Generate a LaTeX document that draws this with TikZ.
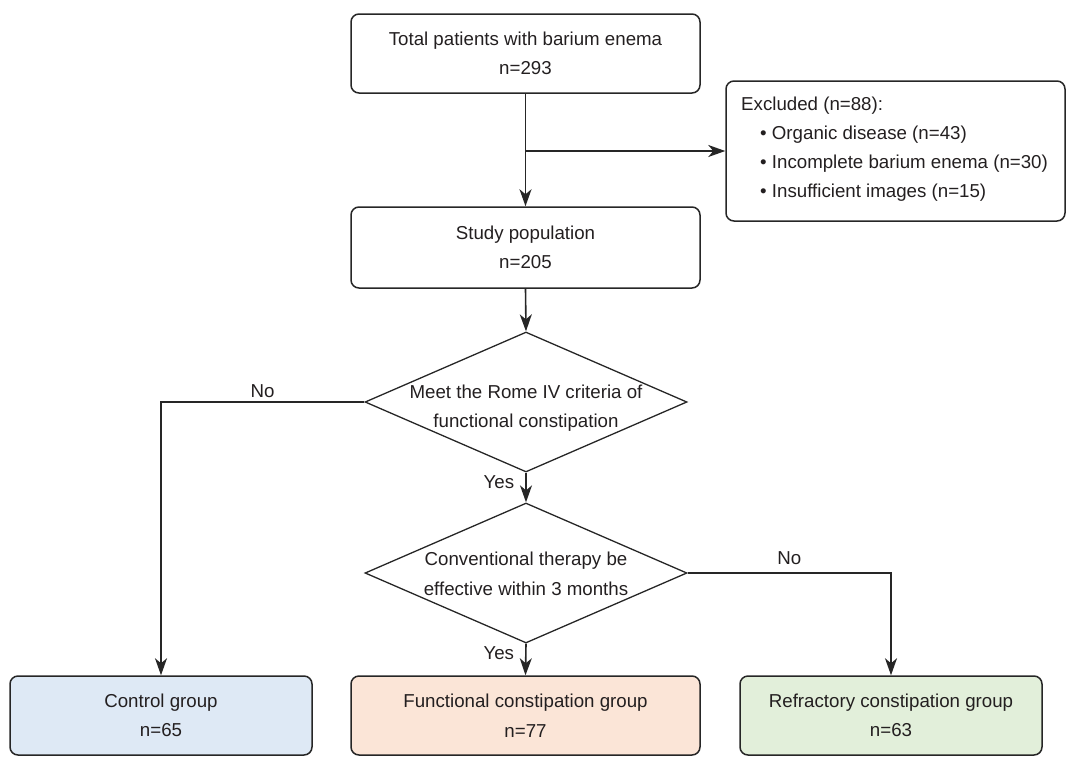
\documentclass[tikz,border=0pt]{standalone}
\usepackage{fontspec}
\setmainfont{Liberation Sans}
\usetikzlibrary{shapes.geometric,arrows.meta,calc}
\definecolor{ln}{HTML}{262626}
\definecolor{txt}{HTML}{231F20}
\definecolor{cblue}{HTML}{DEE9F5}
\definecolor{cpeach}{HTML}{FBE5D7}
\definecolor{cgreen}{HTML}{E2EFDA}
\begin{document}
\begin{tikzpicture}[x=1pt,y=-1pt,
  every node/.style={font=\fontsize{18.7}{29.5}\selectfont, text=txt},
  box/.style={draw=ln, line width=1.5pt, rounded corners=8pt, align=center, inner sep=0pt},
  dia/.style={draw=ln, line width=1.3pt, diamond, inner sep=0pt, minimum width=322pt, minimum height=140pt},
  conn/.style={draw=ln, line width=1.6pt},
  arr/.style={conn, -{Stealth[length=17pt,width=12pt,inset=5pt]}},
  lbl/.style={inner sep=0pt}
]
\useasboundingbox (0,0) rectangle (1066,756);
% boxes
\node[box, minimum width=349pt, minimum height=79pt] (top) at (525.5,53.5) {Total patients with barium enema\\n=293};
\node[box, minimum width=349pt, minimum height=81pt] (study) at (525.5,247.5) {Study population\\n=205};
\node[box, minimum width=339pt, minimum height=140pt] (excl) at (895.5,151) {};
\node[align=left, anchor=west, inner sep=0pt, font=\fontsize{18.7}{29}\selectfont] (exclt) at (741,149.5) {Excluded (n=88):\\\hspace*{19pt}\textbullet\ Organic disease (n=43)\\\hspace*{19pt}\textbullet\ Incomplete barium enema (n=30)\\\hspace*{19pt}\textbullet\ Insufficient images (n=15)};
\node[dia] (d1) at (526,402) {};
\node[align=center, inner sep=0pt] (d1t) at ($(d1)+(0,6)$) {Meet the Rome IV criteria of\\functional constipation};
\node[dia] (d2) at (526,573) {};
\node[align=center, inner sep=0pt] (d2t) at ($(d2)+(0,1)$) {Conventional therapy be\\effective within 3 months};
\node[box, fill=cblue, minimum width=302pt, minimum height=79pt] (ctrl) at (161,715.5) {Control group\\n=65};
\node[box, fill=cpeach, minimum width=349pt, minimum height=79pt] (func) at (525.5,715.5) {Functional constipation group\\n=77};
\node[box, fill=cgreen, minimum width=302pt, minimum height=79pt] (refr) at (891,715.5) {Refractory constipation group\\n=63};
% connectors
\coordinate (br) at (525.5,151);
\draw[arr] (top.south) -- (study.north);
\draw[arr] (br) -- (excl.west);
\draw[arr] (study.south) -- (d1.north);
\draw[arr] (d1.south) -- node[lbl, pos=0.32, left=11pt] {Yes} (d2.north);
\draw[arr] (d2.south) -- node[lbl, pos=0.3, left=11pt] {Yes} (func.north);
\draw[arr] (d1.west) -| node[lbl, pos=0.25, above=4pt] {No} (ctrl.north);
\draw[arr] (d2.east) -| node[lbl, pos=0.25, above=8pt] {No} (refr.north);
\end{tikzpicture}
\end{document}
